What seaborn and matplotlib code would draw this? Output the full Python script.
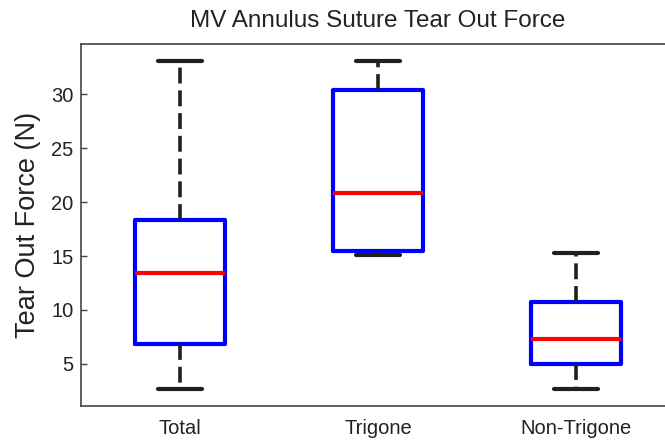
import numpy as np
import pandas as pd
import matplotlib
matplotlib.use("Agg")
import matplotlib.pyplot as plt
import seaborn as sns

# five-number summaries: min, q1, median, q3, max
groups = ["Total", "Trigone", "Non-Trigone"]
total = [2.7, 6.8, 13.4, 18.3, 33.1]
trigone = [15.1, 15.5, 20.8, 30.4, 33.1]
non_trigone = [2.7, 5.0, 7.35, 10.7, 15.3]

df = pd.DataFrame({
    "group": np.repeat(groups, 5),
    "force": total + trigone + non_trigone,
})

sns.set_style("ticks", {"ytick.direction": "in", "xtick.bottom": False})
plt.rcParams["font.family"] = ["Liberation Sans", "DejaVu Sans"]

fig = plt.figure(figsize=(6.65, 4.42), dpi=100, facecolor="white")
ax = fig.add_axes([81 / 665, 36 / 442, 594 / 665, 362 / 442])
ax.patch.set_visible(False)

sns.boxplot(
    data=df,
    x="group",
    y="force",
    order=groups,
    whis=np.inf,
    width=0.455,
    fill=False,
    capwidths=0.22,
    boxprops=dict(color="#0000ff", linewidth=3.0),
    medianprops=dict(color="#ff0000", linewidth=3.0),
    whiskerprops=dict(color="#231f20", linewidth=2.6, linestyle=(0, (4.4, 1.9))),
    capprops=dict(color="#231f20", linewidth=3.0),
    ax=ax,
)

ax.set_xlim(-0.5, 2.5)
ax.set_ylim(1.1, 34.65)
ax.set_yticks([5, 10, 15, 20, 25, 30])
ax.tick_params(axis="y", which="major", direction="in", left=True, length=4,
               width=1.0, color="#444444", labelsize=14.5, labelcolor="#222222", pad=5.5)
ax.tick_params(axis="x", bottom=False, length=0, labelsize=14.5, labelcolor="#222222", pad=9)
ax.set_axisbelow(False)
ax.set_xlabel("")
ax.set_ylabel("Tear Out Force (N)", fontsize=19.5, color="#222222", labelpad=7)
ax.set_title("MV Annulus Suture Tear Out Force", fontsize=17.5, color="#222222", pad=12)

for s in ax.spines.values():
    s.set_color("#444444")
    s.set_linewidth(1.2)

fig.savefig("out.png", dpi=100)
